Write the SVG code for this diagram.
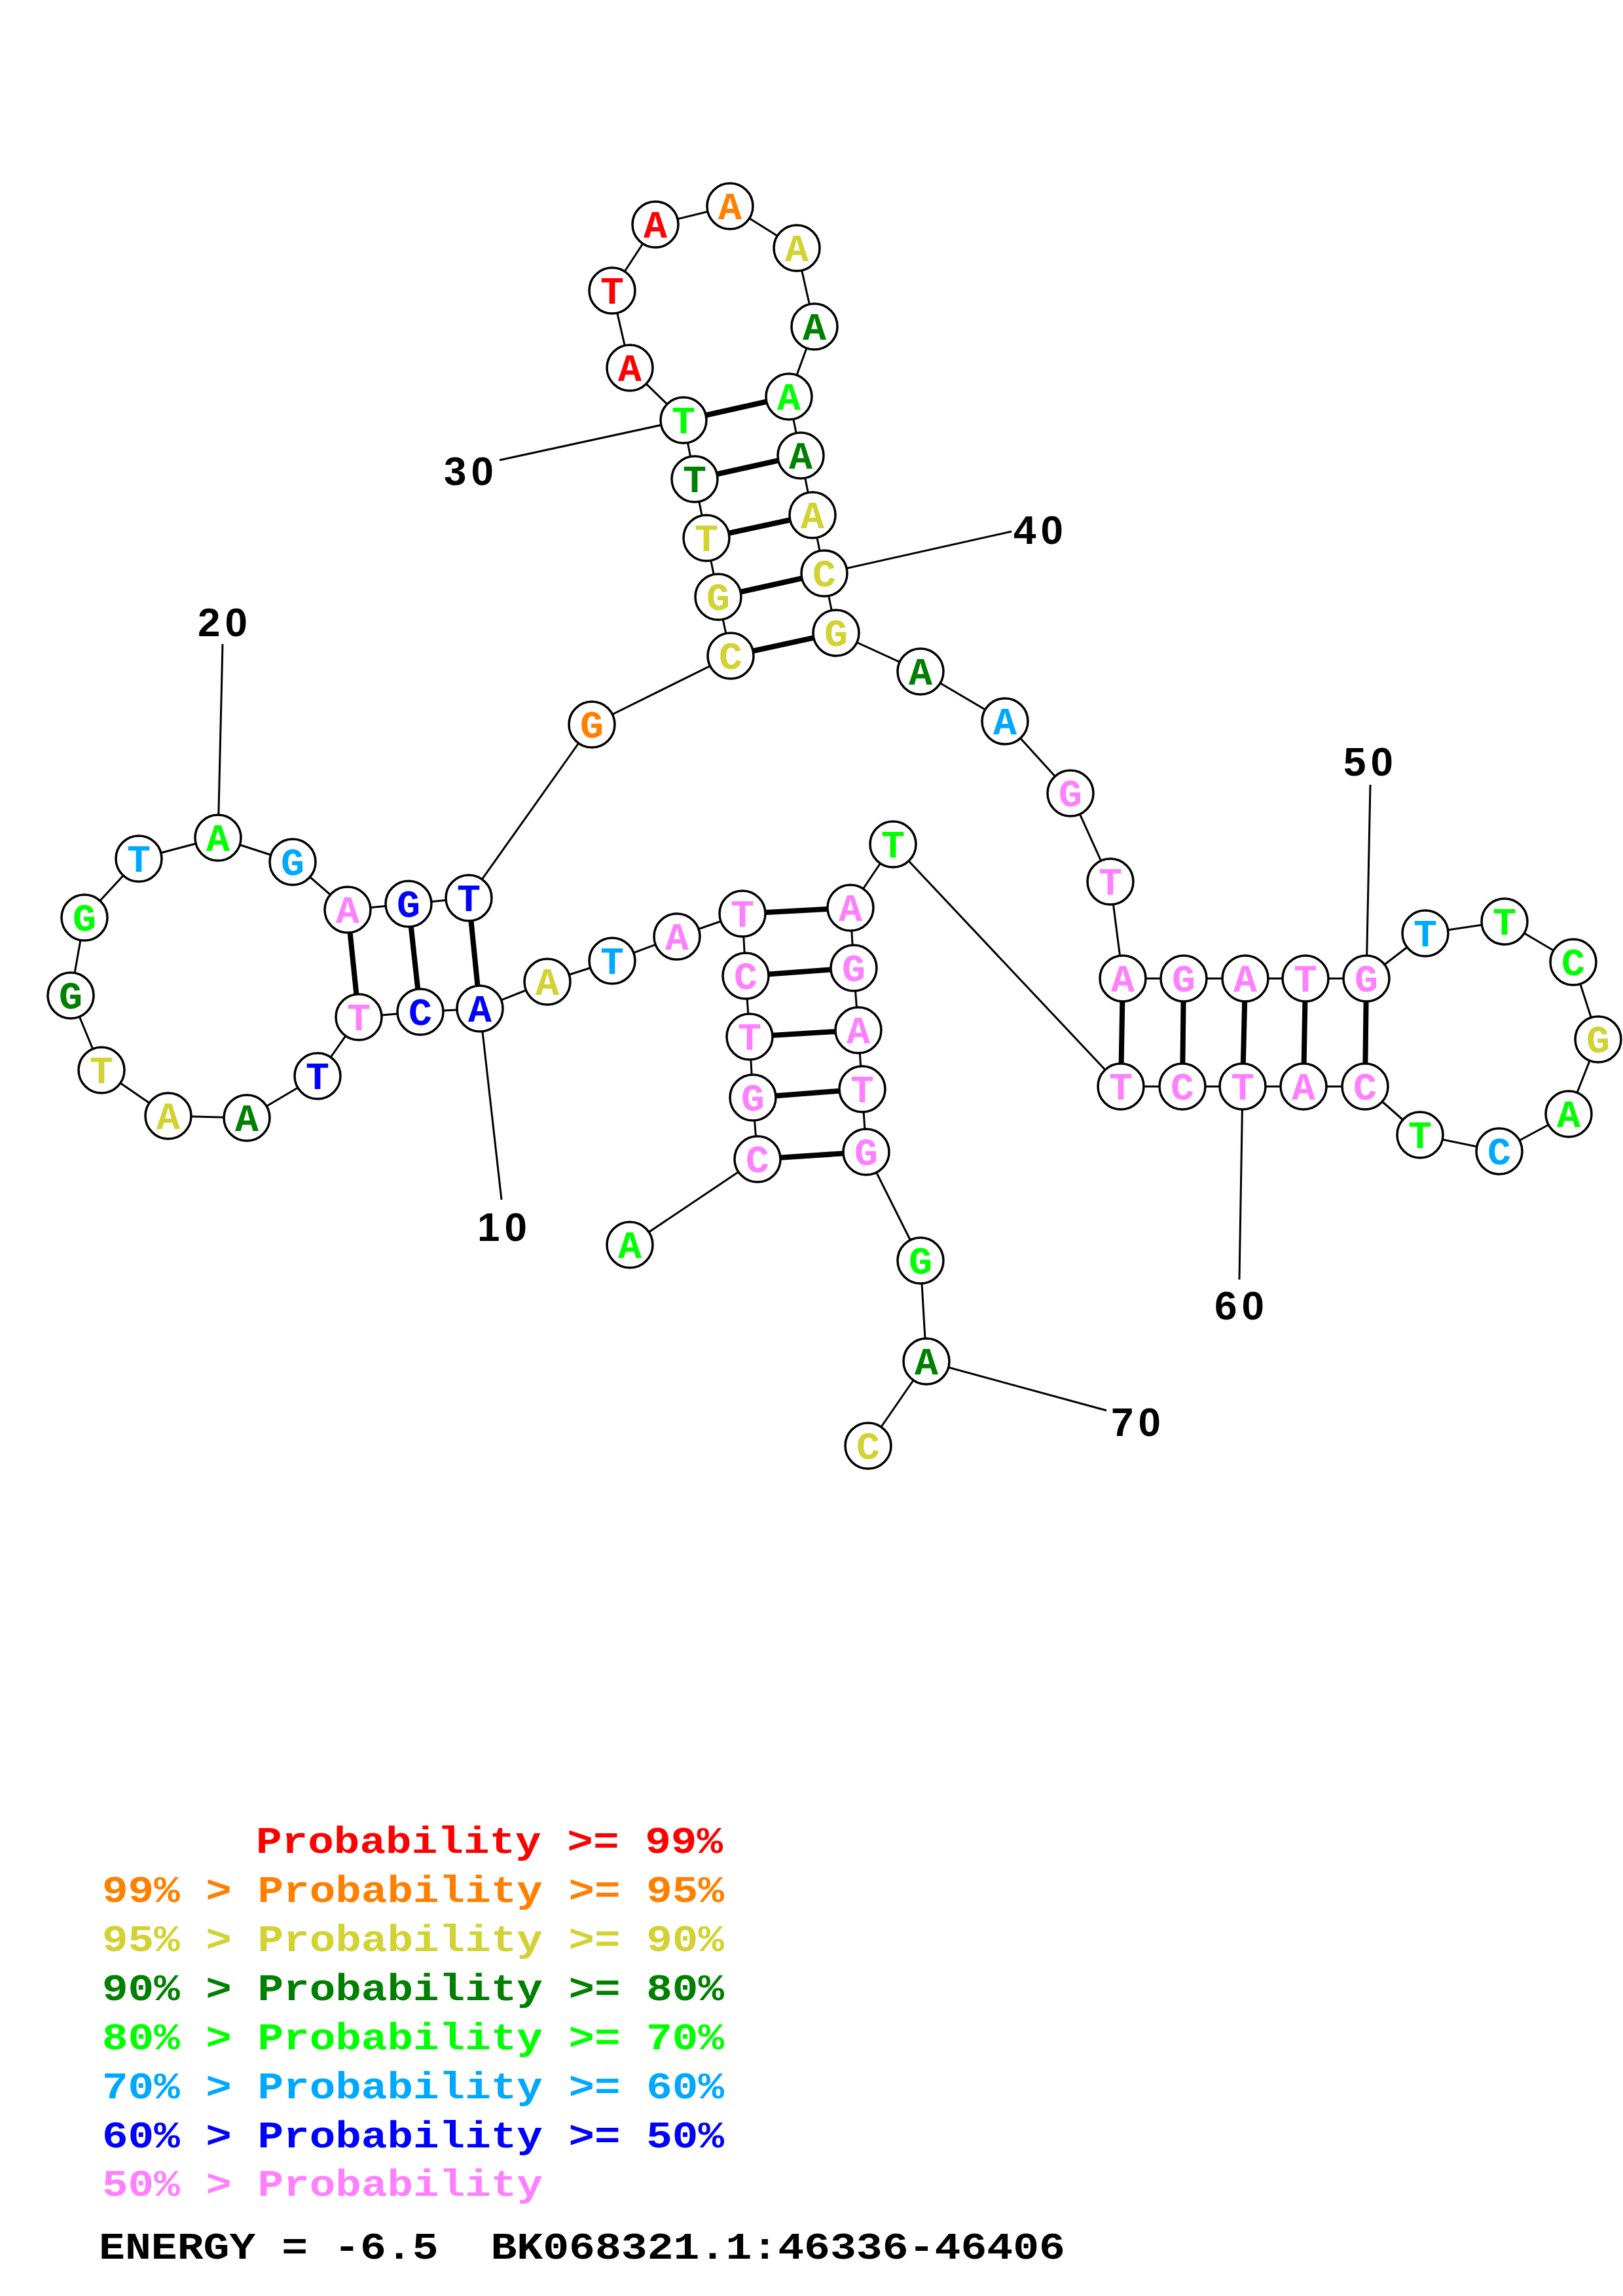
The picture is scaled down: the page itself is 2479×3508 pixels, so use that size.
<svg xmlns="http://www.w3.org/2000/svg" width="2479" height="3508" viewBox="0 0 2479 3508">
<style>
.bb{stroke:#000;stroke-width:3;fill:none}
.pr{stroke:#000;stroke-width:8;fill:none}
.ll{stroke:#000;stroke-width:3;fill:none}
circle{fill:#fff;stroke:#000;stroke-width:3.5}
.nt{font-family:"Liberation Mono","DejaVu Sans Mono",monospace;font-weight:bold;font-size:60px;text-anchor:middle}
.num{font-family:"Liberation Sans",Arial,sans-serif;font-weight:bold;font-size:62px;text-anchor:middle;fill:#000}
.lg{font-family:"Liberation Mono","DejaVu Sans Mono",monospace;font-weight:bold;font-size:57px;white-space:pre}
.r{fill:#ff0000}.o{fill:#ff8000}.y{fill:#d2d232}.dg{fill:#008000}.g{fill:#00ff00}.lb{fill:#00a8ff}.b{fill:#0000ff}.p{fill:#ff80ff}.k{fill:#000}
</style>
<rect width="2479" height="3508" fill="#fff"/>
<g id="connectors">
<line class="bb" x1="962" y1="1902" x2="1157" y2="1771"/>
<line class="bb" x1="1157" y1="1771" x2="1150" y2="1677"/>
<line class="bb" x1="1150" y1="1677" x2="1145" y2="1584"/>
<line class="bb" x1="1145" y1="1584" x2="1139" y2="1491"/>
<line class="bb" x1="1139" y1="1491" x2="1134" y2="1396"/>
<line class="bb" x1="1134" y1="1396" x2="1034" y2="1431"/>
<line class="bb" x1="1034" y1="1431" x2="935" y2="1468"/>
<line class="bb" x1="935" y1="1468" x2="836" y2="1500"/>
<line class="bb" x1="836" y1="1500" x2="733" y2="1541"/>
<line class="bb" x1="733" y1="1541" x2="642" y2="1546"/>
<line class="bb" x1="642" y1="1546" x2="548" y2="1554"/>
<line class="bb" x1="548" y1="1554" x2="485" y2="1644"/>
<line class="bb" x1="485" y1="1644" x2="377" y2="1708"/>
<line class="bb" x1="377" y1="1708" x2="257" y2="1705"/>
<line class="bb" x1="257" y1="1705" x2="155" y2="1635"/>
<line class="bb" x1="155" y1="1635" x2="108" y2="1521"/>
<line class="bb" x1="108" y1="1521" x2="129" y2="1402"/>
<line class="bb" x1="129" y1="1402" x2="212" y2="1312"/>
<line class="bb" x1="212" y1="1312" x2="333" y2="1280"/>
<line class="bb" x1="333" y1="1280" x2="447" y2="1317"/>
<line class="bb" x1="447" y1="1317" x2="531" y2="1390"/>
<line class="bb" x1="531" y1="1390" x2="624" y2="1381"/>
<line class="bb" x1="624" y1="1381" x2="716" y2="1372"/>
<line class="bb" x1="716" y1="1372" x2="904" y2="1107"/>
<line class="bb" x1="904" y1="1107" x2="1116" y2="1002"/>
<line class="bb" x1="1116" y1="1002" x2="1097" y2="912"/>
<line class="bb" x1="1097" y1="912" x2="1079" y2="822"/>
<line class="bb" x1="1079" y1="822" x2="1061" y2="732"/>
<line class="bb" x1="1061" y1="732" x2="1044" y2="642"/>
<line class="bb" x1="1044" y1="642" x2="962" y2="562"/>
<line class="bb" x1="962" y1="562" x2="935" y2="444"/>
<line class="bb" x1="935" y1="444" x2="1001" y2="343"/>
<line class="bb" x1="1001" y1="343" x2="1115" y2="315"/>
<line class="bb" x1="1115" y1="315" x2="1217" y2="379"/>
<line class="bb" x1="1217" y1="379" x2="1244" y2="499"/>
<line class="bb" x1="1244" y1="499" x2="1205" y2="606"/>
<line class="bb" x1="1205" y1="606" x2="1223" y2="696"/>
<line class="bb" x1="1223" y1="696" x2="1241" y2="787"/>
<line class="bb" x1="1241" y1="787" x2="1259" y2="876"/>
<line class="bb" x1="1259" y1="876" x2="1277" y2="967"/>
<line class="bb" x1="1277" y1="967" x2="1406" y2="1026"/>
<line class="bb" x1="1406" y1="1026" x2="1535" y2="1102"/>
<line class="bb" x1="1535" y1="1102" x2="1635" y2="1212"/>
<line class="bb" x1="1635" y1="1212" x2="1696" y2="1347"/>
<line class="bb" x1="1696" y1="1347" x2="1715" y2="1495"/>
<line class="bb" x1="1715" y1="1495" x2="1808" y2="1495"/>
<line class="bb" x1="1808" y1="1495" x2="1902" y2="1495"/>
<line class="bb" x1="1902" y1="1495" x2="1994" y2="1495"/>
<line class="bb" x1="1994" y1="1495" x2="2087" y2="1495"/>
<line class="bb" x1="2087" y1="1495" x2="2177" y2="1426"/>
<line class="bb" x1="2177" y1="1426" x2="2298" y2="1408"/>
<line class="bb" x1="2298" y1="1408" x2="2403" y2="1470"/>
<line class="bb" x1="2403" y1="1470" x2="2441" y2="1588"/>
<line class="bb" x1="2441" y1="1588" x2="2396" y2="1702"/>
<line class="bb" x1="2396" y1="1702" x2="2290" y2="1759"/>
<line class="bb" x1="2290" y1="1759" x2="2169" y2="1734"/>
<line class="bb" x1="2169" y1="1734" x2="2085" y2="1660"/>
<line class="bb" x1="2085" y1="1660" x2="1991" y2="1660"/>
<line class="bb" x1="1991" y1="1660" x2="1898" y2="1660"/>
<line class="bb" x1="1898" y1="1660" x2="1806" y2="1660"/>
<line class="bb" x1="1806" y1="1660" x2="1712" y2="1660"/>
<line class="bb" x1="1712" y1="1660" x2="1364" y2="1290"/>
<line class="bb" x1="1364" y1="1290" x2="1299" y2="1387"/>
<line class="bb" x1="1299" y1="1387" x2="1304" y2="1479"/>
<line class="bb" x1="1304" y1="1479" x2="1311" y2="1574"/>
<line class="bb" x1="1311" y1="1574" x2="1317" y2="1664"/>
<line class="bb" x1="1317" y1="1664" x2="1323" y2="1760"/>
<line class="bb" x1="1323" y1="1760" x2="1406" y2="1926"/>
<line class="bb" x1="1406" y1="1926" x2="1415" y2="2080"/>
<line class="bb" x1="1415" y1="2080" x2="1326" y2="2209"/>
<line class="pr" x1="1157" y1="1771" x2="1323" y2="1760"/>
<line class="pr" x1="1150" y1="1677" x2="1317" y2="1664"/>
<line class="pr" x1="1145" y1="1584" x2="1311" y2="1574"/>
<line class="pr" x1="1139" y1="1491" x2="1304" y2="1479"/>
<line class="pr" x1="1134" y1="1396" x2="1299" y2="1387"/>
<line class="pr" x1="733" y1="1541" x2="716" y2="1372"/>
<line class="pr" x1="642" y1="1546" x2="624" y2="1381"/>
<line class="pr" x1="548" y1="1554" x2="531" y2="1390"/>
<line class="pr" x1="1116" y1="1002" x2="1277" y2="967"/>
<line class="pr" x1="1097" y1="912" x2="1259" y2="876"/>
<line class="pr" x1="1079" y1="822" x2="1241" y2="787"/>
<line class="pr" x1="1061" y1="732" x2="1223" y2="696"/>
<line class="pr" x1="1044" y1="642" x2="1205" y2="606"/>
<line class="pr" x1="1715" y1="1495" x2="1712" y2="1660"/>
<line class="pr" x1="1808" y1="1495" x2="1806" y2="1660"/>
<line class="pr" x1="1902" y1="1495" x2="1898" y2="1660"/>
<line class="pr" x1="1994" y1="1495" x2="1991" y2="1660"/>
<line class="pr" x1="2087" y1="1495" x2="2085" y2="1660"/>
<line class="ll" x1="733" y1="1541" x2="766" y2="1833"/>
<line class="ll" x1="333" y1="1280" x2="340" y2="984"/>
<line class="ll" x1="1044" y1="642" x2="763" y2="703"/>
<line class="ll" x1="1259" y1="876" x2="1545" y2="812"/>
<line class="ll" x1="2087" y1="1495" x2="2093" y2="1199"/>
<line class="ll" x1="1898" y1="1660" x2="1893" y2="1955"/>
<line class="ll" x1="1415" y1="2080" x2="1690" y2="2155"/>
</g>
<g id="labels">
<text class="num" x="767" y="1896" textLength="76">10</text>
<text class="num" x="340" y="972" textLength="76">20</text>
<text class="num" x="716" y="741" textLength="76">30</text>
<text class="num" x="1586" y="831" textLength="76">40</text>
<text class="num" x="2090" y="1185" textLength="76">50</text>
<text class="num" x="1893" y="2016" textLength="76">60</text>
<text class="num" x="1735" y="2194" textLength="76">70</text>
</g>
<g id="nodes">
<g id="n1"><circle cx="962" cy="1902" r="35"/><text class="nt g" x="962" y="1922">A</text></g>
<g id="n2"><circle cx="1157" cy="1771" r="35"/><text class="nt p" x="1157" y="1791">C</text></g>
<g id="n3"><circle cx="1150" cy="1677" r="35"/><text class="nt p" x="1150" y="1697">G</text></g>
<g id="n4"><circle cx="1145" cy="1584" r="35"/><text class="nt p" x="1145" y="1604">T</text></g>
<g id="n5"><circle cx="1139" cy="1491" r="35"/><text class="nt p" x="1139" y="1511">C</text></g>
<g id="n6"><circle cx="1134" cy="1396" r="35"/><text class="nt p" x="1134" y="1416">T</text></g>
<g id="n7"><circle cx="1034" cy="1431" r="35"/><text class="nt p" x="1034" y="1451">A</text></g>
<g id="n8"><circle cx="935" cy="1468" r="35"/><text class="nt lb" x="935" y="1488">T</text></g>
<g id="n9"><circle cx="836" cy="1500" r="35"/><text class="nt y" x="836" y="1520">A</text></g>
<g id="n10"><circle cx="733" cy="1541" r="35"/><text class="nt b" x="733" y="1561">A</text></g>
<g id="n11"><circle cx="642" cy="1546" r="35"/><text class="nt b" x="642" y="1566">C</text></g>
<g id="n12"><circle cx="548" cy="1554" r="35"/><text class="nt p" x="548" y="1574">T</text></g>
<g id="n13"><circle cx="485" cy="1644" r="35"/><text class="nt b" x="485" y="1664">T</text></g>
<g id="n14"><circle cx="377" cy="1708" r="35"/><text class="nt dg" x="377" y="1728">A</text></g>
<g id="n15"><circle cx="257" cy="1705" r="35"/><text class="nt y" x="257" y="1725">A</text></g>
<g id="n16"><circle cx="155" cy="1635" r="35"/><text class="nt y" x="155" y="1655">T</text></g>
<g id="n17"><circle cx="108" cy="1521" r="35"/><text class="nt dg" x="108" y="1541">G</text></g>
<g id="n18"><circle cx="129" cy="1402" r="35"/><text class="nt g" x="129" y="1422">G</text></g>
<g id="n19"><circle cx="212" cy="1312" r="35"/><text class="nt lb" x="212" y="1332">T</text></g>
<g id="n20"><circle cx="333" cy="1280" r="35"/><text class="nt g" x="333" y="1300">A</text></g>
<g id="n21"><circle cx="447" cy="1317" r="35"/><text class="nt lb" x="447" y="1337">G</text></g>
<g id="n22"><circle cx="531" cy="1390" r="35"/><text class="nt p" x="531" y="1410">A</text></g>
<g id="n23"><circle cx="624" cy="1381" r="35"/><text class="nt b" x="624" y="1401">G</text></g>
<g id="n24"><circle cx="716" cy="1372" r="35"/><text class="nt b" x="716" y="1392">T</text></g>
<g id="n25"><circle cx="904" cy="1107" r="35"/><text class="nt o" x="904" y="1127">G</text></g>
<g id="n26"><circle cx="1116" cy="1002" r="35"/><text class="nt y" x="1116" y="1022">C</text></g>
<g id="n27"><circle cx="1097" cy="912" r="35"/><text class="nt y" x="1097" y="932">G</text></g>
<g id="n28"><circle cx="1079" cy="822" r="35"/><text class="nt y" x="1079" y="842">T</text></g>
<g id="n29"><circle cx="1061" cy="732" r="35"/><text class="nt dg" x="1061" y="752">T</text></g>
<g id="n30"><circle cx="1044" cy="642" r="35"/><text class="nt g" x="1044" y="662">T</text></g>
<g id="n31"><circle cx="962" cy="562" r="35"/><text class="nt r" x="962" y="582">A</text></g>
<g id="n32"><circle cx="935" cy="444" r="35"/><text class="nt r" x="935" y="464">T</text></g>
<g id="n33"><circle cx="1001" cy="343" r="35"/><text class="nt r" x="1001" y="363">A</text></g>
<g id="n34"><circle cx="1115" cy="315" r="35"/><text class="nt o" x="1115" y="335">A</text></g>
<g id="n35"><circle cx="1217" cy="379" r="35"/><text class="nt y" x="1217" y="399">A</text></g>
<g id="n36"><circle cx="1244" cy="499" r="35"/><text class="nt dg" x="1244" y="519">A</text></g>
<g id="n37"><circle cx="1205" cy="606" r="35"/><text class="nt g" x="1205" y="626">A</text></g>
<g id="n38"><circle cx="1223" cy="696" r="35"/><text class="nt dg" x="1223" y="716">A</text></g>
<g id="n39"><circle cx="1241" cy="787" r="35"/><text class="nt y" x="1241" y="807">A</text></g>
<g id="n40"><circle cx="1259" cy="876" r="35"/><text class="nt y" x="1259" y="896">C</text></g>
<g id="n41"><circle cx="1277" cy="967" r="35"/><text class="nt y" x="1277" y="987">G</text></g>
<g id="n42"><circle cx="1406" cy="1026" r="35"/><text class="nt dg" x="1406" y="1046">A</text></g>
<g id="n43"><circle cx="1535" cy="1102" r="35"/><text class="nt lb" x="1535" y="1122">A</text></g>
<g id="n44"><circle cx="1635" cy="1212" r="35"/><text class="nt p" x="1635" y="1232">G</text></g>
<g id="n45"><circle cx="1696" cy="1347" r="35"/><text class="nt p" x="1696" y="1367">T</text></g>
<g id="n46"><circle cx="1715" cy="1495" r="35"/><text class="nt p" x="1715" y="1515">A</text></g>
<g id="n47"><circle cx="1808" cy="1495" r="35"/><text class="nt p" x="1808" y="1515">G</text></g>
<g id="n48"><circle cx="1902" cy="1495" r="35"/><text class="nt p" x="1902" y="1515">A</text></g>
<g id="n49"><circle cx="1994" cy="1495" r="35"/><text class="nt p" x="1994" y="1515">T</text></g>
<g id="n50"><circle cx="2087" cy="1495" r="35"/><text class="nt p" x="2087" y="1515">G</text></g>
<g id="n51"><circle cx="2177" cy="1426" r="35"/><text class="nt lb" x="2177" y="1446">T</text></g>
<g id="n52"><circle cx="2298" cy="1408" r="35"/><text class="nt g" x="2298" y="1428">T</text></g>
<g id="n53"><circle cx="2403" cy="1470" r="35"/><text class="nt g" x="2403" y="1490">C</text></g>
<g id="n54"><circle cx="2441" cy="1588" r="35"/><text class="nt y" x="2441" y="1608">G</text></g>
<g id="n55"><circle cx="2396" cy="1702" r="35"/><text class="nt g" x="2396" y="1722">A</text></g>
<g id="n56"><circle cx="2290" cy="1759" r="35"/><text class="nt lb" x="2290" y="1779">C</text></g>
<g id="n57"><circle cx="2169" cy="1734" r="35"/><text class="nt g" x="2169" y="1754">T</text></g>
<g id="n58"><circle cx="2085" cy="1660" r="35"/><text class="nt p" x="2085" y="1680">C</text></g>
<g id="n59"><circle cx="1991" cy="1660" r="35"/><text class="nt p" x="1991" y="1680">A</text></g>
<g id="n60"><circle cx="1898" cy="1660" r="35"/><text class="nt p" x="1898" y="1680">T</text></g>
<g id="n61"><circle cx="1806" cy="1660" r="35"/><text class="nt p" x="1806" y="1680">C</text></g>
<g id="n62"><circle cx="1712" cy="1660" r="35"/><text class="nt p" x="1712" y="1680">T</text></g>
<g id="n63"><circle cx="1364" cy="1290" r="35"/><text class="nt g" x="1364" y="1310">T</text></g>
<g id="n64"><circle cx="1299" cy="1387" r="35"/><text class="nt p" x="1299" y="1407">A</text></g>
<g id="n65"><circle cx="1304" cy="1479" r="35"/><text class="nt p" x="1304" y="1499">G</text></g>
<g id="n66"><circle cx="1311" cy="1574" r="35"/><text class="nt p" x="1311" y="1594">A</text></g>
<g id="n67"><circle cx="1317" cy="1664" r="35"/><text class="nt p" x="1317" y="1684">T</text></g>
<g id="n68"><circle cx="1323" cy="1760" r="35"/><text class="nt p" x="1323" y="1780">G</text></g>
<g id="n69"><circle cx="1406" cy="1926" r="35"/><text class="nt g" x="1406" y="1946">G</text></g>
<g id="n70"><circle cx="1415" cy="2080" r="35"/><text class="nt dg" x="1415" y="2100">A</text></g>
<g id="n71"><circle cx="1326" cy="2209" r="35"/><text class="nt y" x="1326" y="2229">C</text></g>
</g>
<g id="legend">
<text class="lg r" x="391" y="2831" textLength="713" lengthAdjust="spacingAndGlyphs">Probability &gt;= 99%</text>
<text class="lg o" x="156" y="2906" textLength="950" lengthAdjust="spacingAndGlyphs">99% &gt; Probability &gt;= 95%</text>
<text class="lg y" x="156" y="2981" textLength="950" lengthAdjust="spacingAndGlyphs">95% &gt; Probability &gt;= 90%</text>
<text class="lg dg" x="156" y="3056" textLength="950" lengthAdjust="spacingAndGlyphs">90% &gt; Probability &gt;= 80%</text>
<text class="lg g" x="156" y="3131" textLength="950" lengthAdjust="spacingAndGlyphs">80% &gt; Probability &gt;= 70%</text>
<text class="lg lb" x="156" y="3206" textLength="950" lengthAdjust="spacingAndGlyphs">70% &gt; Probability &gt;= 60%</text>
<text class="lg b" x="156" y="3281" textLength="950" lengthAdjust="spacingAndGlyphs">60% &gt; Probability &gt;= 50%</text>
<text class="lg p" x="156" y="3355" textLength="673" lengthAdjust="spacingAndGlyphs">50% &gt; Probability</text>
<text class="lg k" x="151" y="3451" textLength="1476" lengthAdjust="spacingAndGlyphs" xml:space="preserve">ENERGY = -6.5  BK068321.1:46336-46406</text>
</g>
</svg>
